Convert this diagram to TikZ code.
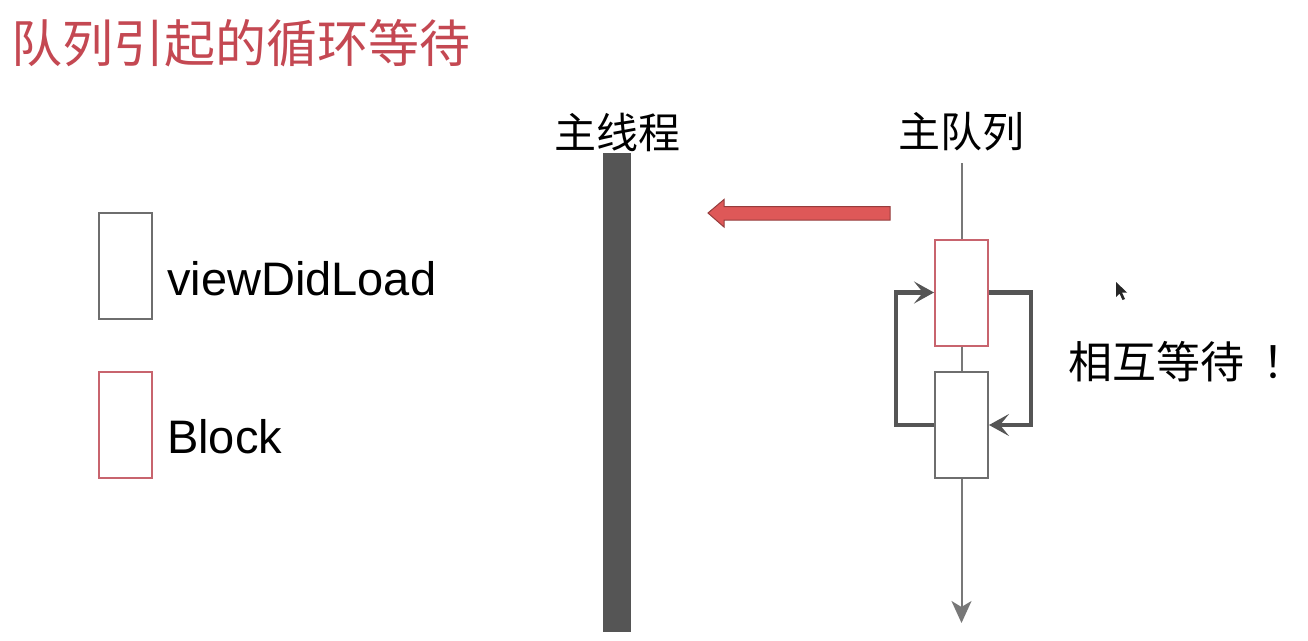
\documentclass[tikz,border=0pt]{standalone}
\usepackage{fontspec}
\setmainfont{Liberation Sans}
\newfontfamily\cjk{Noto Sans CJK SC}
\usetikzlibrary{arrows.meta}
\definecolor{titlered}{RGB}{196,72,82}
\definecolor{boxred}{RGB}{200,100,110}
\definecolor{boxgray}{RGB}{110,110,110}
\definecolor{darkbar}{RGB}{85,85,85}
\definecolor{arrowfill}{RGB}{222,88,88}
\definecolor{arrowedge}{RGB}{150,60,60}
\definecolor{qline}{RGB}{120,120,120}
\tikzset{
  vdlbox/.style={draw=boxgray, line width=2pt, minimum width=53pt, minimum height=106pt, inner sep=0pt, fill=white},
  blkbox/.style={draw=boxred, line width=2pt, minimum width=53pt, minimum height=106pt, inner sep=0pt, fill=white},
  cjklabel/.style={inner sep=0pt, font=\cjk\fontsize{42}{50}\selectfont},
  latlabel/.style={inner sep=0pt, anchor=base west, font=\fontsize{47}{54}\selectfont},
  loopline/.style={draw=darkbar, line width=4.5pt, -{Stealth[length=20pt,width=22pt,inset=9pt]}},
  qarrow/.style={draw=qline, line width=2pt},
}
\begin{document}
\begin{tikzpicture}[x=1pt,y=-1pt]
\useasboundingbox (0,0) rectangle (1308,640);
\fill[white] (0,0) rectangle (1308,640);

% title
\node[inner sep=0pt, text=titlered, font=\cjk\fontsize{51}{56}\selectfont] (title) at (241,43) {队列引起的循环等待};

% legend
\node[vdlbox] (lgv) at (125,266) {};
\node[blkbox] (lgb) at (125,425) {};
\node[latlabel] (lgvt) at (167,295) {viewDidLoad};
\node[latlabel] (lgbt) at (167,453) {Block};

% main thread
\node[cjklabel] (mtl) at (617,132) {主线程};
\node[fill=darkbar, inner sep=0pt, minimum width=28pt, minimum height=479pt] (mt) at (617,392.5) {};

% red arrow
\draw[fill=arrowfill, draw=arrowedge, line width=1pt, line join=miter]
  (708,213) -- (724,199.5) -- (724,206.5) -- (890,206.5) -- (890,220) -- (724,220) -- (724,227) -- cycle;

% main queue
\node[cjklabel] (mql) at (961,132) {主队列};
\coordinate (qtop) at (961.5,163);
\coordinate (qend) at (961.5,623);
\node[blkbox] (blk) at (961.5,292.5) {};
\node[vdlbox] (vdl) at (961.5,425) {};
\draw[qarrow] (qtop) -- (blk.north);
\draw[qarrow] (blk.south) -- (vdl.north);
\draw[qarrow, -{Stealth[length=22pt,width=20pt,inset=6pt]}] (vdl.south) -- (qend);

% loop arrows
\draw[loopline] (vdl.west) -- (896,425) -- (896,292.5) -- (blk.west);
\draw[loopline] (blk.east) -- (1031,292.5) -- (1031,425) -- (vdl.east);

% label
\node[inner sep=0pt, anchor=west, font=\cjk\fontsize{44}{50}\selectfont] (wait) at (1068,362) {相互等待\hspace{18pt}！};

% cursor
\fill[black!85] (1116,282) -- (1116,297) -- (1119.5,293.5) -- (1122.5,300) -- (1125,299) -- (1122,292.5) -- (1127,292.5) -- cycle;
\end{tikzpicture}
\end{document}
